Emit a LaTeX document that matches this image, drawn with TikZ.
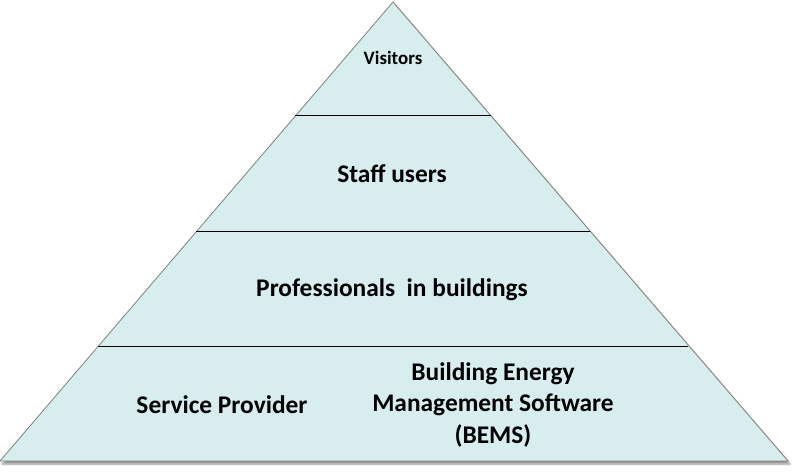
\documentclass[tikz,border=0pt]{standalone}
\usepackage{fontspec}
\setmainfont{Carlito}
\usetikzlibrary{shadows.blur}
\definecolor{layerfill}{HTML}{D8EEEE}
\definecolor{edgegray}{HTML}{7F7F7F}
\tikzset{layerlabel/.style={font=\bfseries\fontsize{25.5}{32}\selectfont, inner sep=0pt}}

\begin{document}
\begin{tikzpicture}[x=1bp, y=-1bp]
    \useasboundingbox (0, 0) rectangle (795, 476);
    % the pyramid
    \coordinate (apex) at (393, 2);
    \coordinate (baseleft) at (0, 461);
    \coordinate (baseright) at (788, 461);
    \draw[edgegray, fill=layerfill, line width=0.8bp,
          blur shadow={shadow xshift=2bp, shadow yshift=-3bp, shadow blur steps=6, shadow opacity=45}]
          (apex) -- (baseright) -- (baseleft) -- cycle;
    % dividers between the layers
    \draw[black, line width=1bp] (295.4, 116) -- (490.6, 116);
    \draw[black, line width=1bp] (196.1, 232) -- (589.9, 232);
    \draw[black, line width=1bp] (97.6, 347) -- (688.4, 347);
    % labels
    \node[layerlabel, font=\bfseries\fontsize{19}{20}\selectfont, anchor=base] (visitors) at (393, 65) {Visitors};
    \node[layerlabel, anchor=base] (staff) at (392, 183) {Staff users};
    \node[layerlabel, anchor=base] (professionals) at (392, 297) {Professionals\ \ in buildings};
    \node[layerlabel, anchor=base] (provider) at (222, 413) {Service Provider};
    \node[layerlabel, align=center] (bems) at (493, 405) {Building Energy\\Management Software\\(BEMS)};
\end{tikzpicture}
\end{document}
